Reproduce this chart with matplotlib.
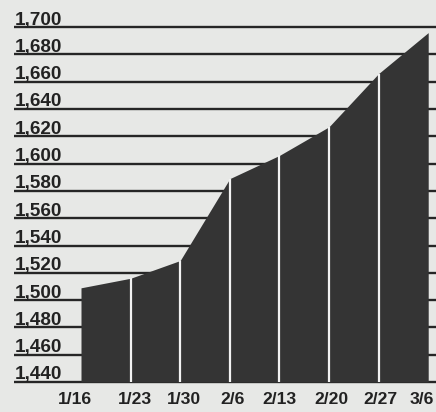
import matplotlib
matplotlib.use("Agg")
import matplotlib.pyplot as plt

dates = ['1/16', '1/23', '1/30', '2/6', '2/13', '2/20', '2/27', '3/6']
values = [1509, 1516, 1529, 1589, 1606, 1627, 1666, 1696]
yticks = [1440, 1460, 1480, 1500, 1520, 1540, 1560, 1580, 1600, 1620, 1640, 1660, 1680, 1700]

BG = '#e7e8e6'
AREA = '#343434'
LINE = '#262626'
TXT = '#222222'

fig = plt.figure(figsize=(4.36, 4.12), dpi=100, facecolor=BG)
ax = fig.add_axes([0, 0, 1, 1])
ax.set_facecolor(BG)
ax.set_xlim(-1.633, 7.157)
ax.set_ylim(1418.0, 1719.9)
ax.axis('off')

xs = list(range(len(dates)))
# gridlines
for v in yticks:
    ax.hlines(v, -1.351, 7.3, color=LINE, lw=1.7, zorder=1)
    ax.text(-1.33, v + 1.9, f"{v:,}", ha='left', va='baseline',
            fontsize=13.6, fontweight='bold', family='Liberation Sans',
            color=TXT, zorder=3)

ax.fill_between(xs, yticks[0], values, color=AREA, lw=0, zorder=2)
for i in xs[1:-1]:
    ax.vlines(i, yticks[0], values[i], color='#f2f2f2', lw=1.6, zorder=2.5)

label_shift = [-0.12, 0.08, 0.08, 0.06, 0.0, 0.04, 0.04, -0.12]
for i, d in enumerate(dates):
    ax.text(i + label_shift[i], 1423.5, d, ha='center', va='baseline', fontsize=12.6,
            fontweight='bold', family='Liberation Sans', color=TXT)

fig.savefig('out.png', dpi=100, facecolor=BG)
